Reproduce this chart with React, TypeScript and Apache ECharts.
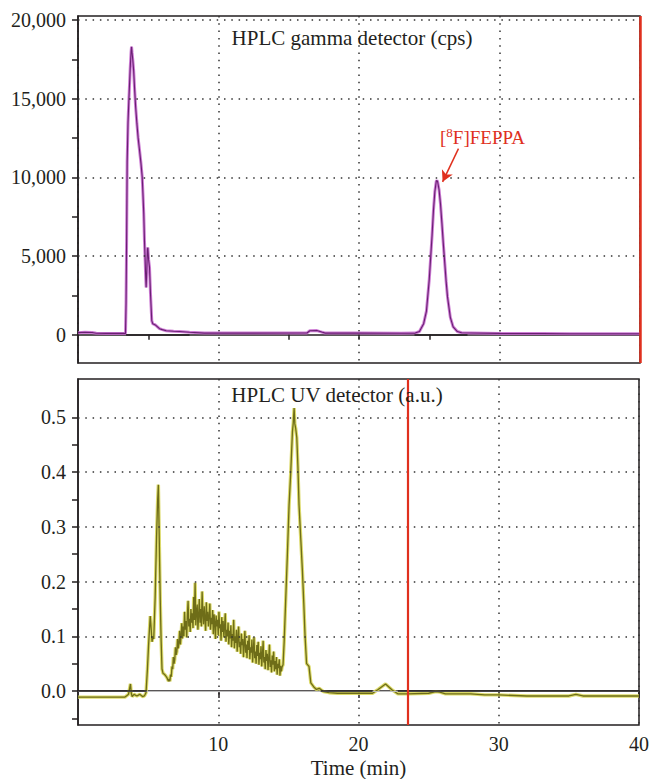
import React, { useEffect, useRef } from "react";
import * as echarts from "echarts";

// ---------- data ----------
const gammaData: [number, number][] = [
  [0, 130], [0.5, 150], [1.0, 140], [1.3, 90], [2.0, 80], [3.0, 80], [3.38, 80],
  [3.42, 2000], [3.46, 6000], [3.5, 11000], [3.56, 13500], [3.62, 14900], [3.72, 17000],
  [3.78, 18000], [3.81, 18300], [3.85, 17900], [3.9, 17450], [3.96, 16800], [4.02, 15750],
  [4.1, 14500], [4.19, 13440], [4.28, 12500], [4.38, 11720], [4.48, 10900], [4.57, 10020],
  [4.62, 9000], [4.68, 7700], [4.73, 6000], [4.78, 4710], [4.82, 3600], [4.85, 3000],
  [4.9, 4200], [4.94, 5400], [4.97, 5540], [5.02, 4800], [5.09, 4270], [5.16, 2600],
  [5.25, 890], [5.32, 700], [5.5, 620], [5.8, 380], [6.0, 320], [6.28, 250], [6.8, 220],
  [7.22, 200], [7.94, 150], [9.0, 100], [12.0, 100], [16.3, 110], [16.5, 250], [17.0, 260],
  [17.4, 150], [17.6, 100], [20.0, 100], [23.0, 90], [24.0, 100], [24.3, 200], [24.6, 700],
  [24.8, 1500], [25.0, 3500], [25.1, 4900], [25.2, 6300], [25.3, 7900], [25.4, 9100],
  [25.5, 9750], [25.55, 9800], [25.6, 9700], [25.7, 9200], [25.8, 8300], [25.9, 7100],
  [26.0, 5800], [26.1, 4600], [26.2, 3400], [26.3, 2400], [26.5, 1100], [26.7, 500],
  [27.0, 200], [27.3, 120], [28.0, 110], [30.0, 80], [33.0, 70], [35.0, 60], [40.0, 60],
];

const uvData: [number, number][] = [
  [0, -0.011], [3.35, -0.011], [3.5, -0.008], [3.6, -0.006], [3.74, 0.013], [3.8, -0.004],
  [3.86, -0.01], [4.0, -0.006], [4.2, -0.009], [4.4, -0.006], [4.6, -0.01], [4.73, -0.009],
  [4.85, -0.003], [4.95, 0.04], [5.03, 0.083], [5.09, 0.11], [5.15, 0.137], [5.2, 0.12],
  [5.28, 0.09], [5.34, 0.1], [5.4, 0.095], [5.5, 0.17], [5.6, 0.28], [5.68, 0.35],
  [5.73, 0.377], [5.78, 0.3], [5.83, 0.22], [5.87, 0.16], [5.93, 0.09], [5.99, 0.04],
  [6.07, 0.032], [6.15, 0.031], [6.25, 0.028], [6.35, 0.024], [6.45, 0.018],
  [6.5, 0.022], [6.55, 0.018], [6.6, 0.03], [6.65, 0.026], [6.7, 0.045], [6.75, 0.04],
  [6.8, 0.062], [6.85, 0.05], [6.9, 0.058], [6.95, 0.08], [7.0, 0.066], [7.05, 0.072],
  [7.1, 0.095], [7.15, 0.078], [7.2, 0.088], [7.25, 0.11], [7.3, 0.085], [7.35, 0.102],
  [7.4, 0.124], [7.45, 0.096], [7.5, 0.118], [7.55, 0.1], [7.6, 0.145], [7.65, 0.112],
  [7.7, 0.128], [7.75, 0.098], [7.8, 0.14], [7.85, 0.165], [7.9, 0.118], [7.95, 0.132],
  [8.0, 0.108], [8.05, 0.15], [8.1, 0.125], [8.15, 0.142], [8.2, 0.115], [8.25, 0.172],
  [8.3, 0.13], [8.35, 0.198], [8.4, 0.12], [8.45, 0.145], [8.5, 0.158], [8.55, 0.112],
  [8.6, 0.138], [8.65, 0.168], [8.7, 0.125], [8.75, 0.15], [8.8, 0.118], [8.85, 0.182],
  [8.9, 0.14], [8.95, 0.122], [9.0, 0.155], [9.05, 0.132], [9.1, 0.11], [9.15, 0.162],
  [9.2, 0.128], [9.25, 0.145], [9.3, 0.118], [9.35, 0.138], [9.4, 0.16], [9.45, 0.112],
  [9.5, 0.134], [9.55, 0.122], [9.6, 0.148], [9.65, 0.104], [9.7, 0.14], [9.75, 0.125],
  [9.8, 0.095], [9.85, 0.138], [9.9, 0.118], [9.95, 0.13], [10.0, 0.102], [10.05, 0.145],
  [10.1, 0.115], [10.15, 0.122], [10.2, 0.092], [10.25, 0.135], [10.3, 0.108], [10.35, 0.128],
  [10.4, 0.098], [10.45, 0.118], [10.5, 0.142], [10.55, 0.09], [10.6, 0.112], [10.65, 0.1],
  [10.7, 0.125], [10.75, 0.085], [10.8, 0.11], [10.85, 0.096], [10.9, 0.12], [10.95, 0.08],
  [11.0, 0.104], [11.05, 0.092], [11.1, 0.13], [11.15, 0.078], [11.2, 0.1], [11.25, 0.088],
  [11.3, 0.112], [11.35, 0.072], [11.4, 0.095], [11.45, 0.118], [11.5, 0.08], [11.55, 0.09],
  [11.6, 0.068], [11.65, 0.105], [11.7, 0.084], [11.75, 0.095], [11.8, 0.062], [11.85, 0.088],
  [11.9, 0.11], [11.95, 0.07], [12.0, 0.085], [12.05, 0.06], [12.1, 0.092], [12.15, 0.075],
  [12.2, 0.102], [12.25, 0.058], [12.3, 0.08], [12.35, 0.07], [12.4, 0.094], [12.45, 0.052],
  [12.5, 0.076], [12.55, 0.098], [12.6, 0.06], [12.65, 0.072], [12.7, 0.05], [12.75, 0.084],
  [12.8, 0.064], [12.85, 0.09], [12.9, 0.048], [12.95, 0.07], [13.0, 0.058], [13.05, 0.082],
  [13.1, 0.045], [13.15, 0.066], [13.2, 0.092], [13.25, 0.052], [13.3, 0.062], [13.35, 0.04],
  [13.4, 0.075], [13.45, 0.055], [13.5, 0.068], [13.55, 0.038], [13.6, 0.06], [13.65, 0.085],
  [13.7, 0.044], [13.75, 0.056], [13.8, 0.034], [13.85, 0.065], [13.9, 0.048], [13.95, 0.072],
  [14.0, 0.036], [14.05, 0.055], [14.1, 0.04], [14.15, 0.062], [14.2, 0.03], [14.25, 0.05],
  [14.3, 0.042], [14.35, 0.058], [14.4, 0.028], [14.45, 0.046], [14.5, 0.036], [14.55, 0.044],
  [14.62, 0.048], [14.7, 0.09], [14.8, 0.16], [14.93, 0.25], [15.05, 0.34],
  [15.17, 0.4], [15.29, 0.474], [15.35, 0.49], [15.41, 0.517], [15.46, 0.488], [15.52, 0.48],
  [15.6, 0.463], [15.68, 0.41], [15.76, 0.34], [15.88, 0.28], [16.0, 0.22], [16.1, 0.16],
  [16.19, 0.1], [16.3, 0.05], [16.47, 0.045], [16.6, 0.015], [16.8, 0.008], [17.0, 0.003],
  [17.2, 0.005], [17.5, -0.001], [17.9, -0.003], [18.5, -0.004], [20.0, -0.004], [21.0, -0.004],
  [21.4, 0.003], [21.93, 0.013], [22.4, 0.002], [22.8, -0.005], [23.5, -0.005], [25.0, -0.004],
  [25.5, -0.001], [25.8, -0.002], [26.2, -0.005], [28.0, -0.005], [29.0, -0.007], [30.0, -0.007],
  [32.0, -0.009], [35.0, -0.009], [35.5, -0.006], [36.0, -0.009], [40.0, -0.009],
];

const xTickValues = [10, 20, 30, 40];
const gammaYLabels = [0, 5000, 10000, 15000, 20000];
const gammaYTicks = [0, 2500, 5000, 7500, 10000, 12500, 15000, 17500, 20000];
const uvYLabels = [0, 0.1, 0.2, 0.3, 0.4, 0.5];
const uvYTicks = [-0.05, 0, 0.05, 0.1, 0.15, 0.2, 0.25, 0.3, 0.35, 0.4, 0.45, 0.5];

const gammaBaselines: [number, number][] = [[3.43, 7.94], [23.95, 27.72]];
const gammaMarkers = [5, 15, 20, 25];
const uvBlackBaselines: [number, number][] = [[0, 4.9], [17.3, 21.0], [22.8, 40]];
const gammaCursor = 40;
const uvCursor = 23.5;
const arrowFrom: [number, number] = [27.08, 11818];
const arrowTo: [number, number] = [25.95, 9713];

const FONT = "Liberation Serif";
const INK = "#231f20";
const RED = "#e0301e";
const DOT: [number, number] = [1.5, 5.8];

export default function App() {
  const ref = useRef<HTMLDivElement>(null);
  useEffect(() => {
    document.body.style.margin = "0";
    const chart = echarts.init(ref.current!, undefined, { renderer: "svg" });

    const yLabel = (text: string) => ({
      show: true, position: "start", distance: 12, formatter: text,
      fontFamily: FONT, fontSize: 20, color: INK,
    });
    const dotted = { color: "#333", width: 1.5, type: DOT };
    const hidden = { color: "rgba(0,0,0,0)", width: 0 };

    const option: any = {
      animation: false,
      backgroundColor: "#fff",
      textStyle: { fontFamily: FONT, color: INK },
      grid: [
        { left: 78, top: 16, width: 562, height: 347, show: true, borderColor: INK, borderWidth: 1.5 },
        { left: 78, top: 379, width: 562, height: 347, show: true, borderColor: INK, borderWidth: 1.5 },
      ],
      xAxis: [
        {
          type: "value", gridIndex: 0, min: 0, max: 40, interval: 10,
          axisLine: { show: true, lineStyle: { color: INK, width: 1.5 } },
          axisTick: { show: false }, axisLabel: { show: false },
          splitLine: { show: true, lineStyle: dotted },
        },
        {
          type: "value", gridIndex: 1, min: 0, max: 40, interval: 10,
          axisLine: { show: true, lineStyle: { color: INK, width: 1.5 } },
          axisTick: { show: true, length: 7, lineStyle: { color: INK, width: 1.5 }, customValues: xTickValues },
          axisLabel: {
            fontFamily: FONT, fontSize: 20, color: INK, margin: 9,
            formatter: (v: number) => (v === 0 ? "" : String(v)),
          },
          splitLine: { show: true, lineStyle: dotted },
          name: "Time (min)", nameLocation: "middle", nameGap: 32,
          nameTextStyle: { fontFamily: FONT, fontSize: 21, color: INK },
        },
      ],
      yAxis: [
        {
          type: "value", gridIndex: 0, min: -1800, max: 20250,
          axisLine: { show: true, lineStyle: { color: INK, width: 1.5 } },
          axisTick: { show: true, length: 6, lineStyle: { color: INK, width: 1.5 }, customValues: gammaYTicks },
          axisLabel: { show: false },
          splitLine: { show: false },
        },
        {
          type: "value", gridIndex: 1, min: -0.062, max: 0.57,
          axisLine: { show: true, lineStyle: { color: INK, width: 1.5 } },
          axisTick: { show: true, length: 6, lineStyle: { color: INK, width: 1.5 }, customValues: uvYTicks },
          axisLabel: { show: false },
          splitLine: { show: false },
        },
      ],
      series: [
        {
          type: "line", xAxisIndex: 0, yAxisIndex: 0, data: gammaData, showSymbol: false,
          lineStyle: { color: "#c466cc", width: 3, opacity: 0.85 }, z: 2, silent: true,
          markLine: {
            silent: true, symbol: ["none", "none"],
            data: gammaYLabels.map((v) => ({
              yAxis: v,
              lineStyle: v === 0 ? hidden : dotted,
              label: yLabel(v.toLocaleString("en-US")),
            })),
          },
        },
        {
          type: "line", xAxisIndex: 0, yAxisIndex: 0, data: gammaData, showSymbol: false,
          lineStyle: { color: "#6a1f73", width: 1.1 }, z: 3, silent: true,
          markLine: {
            silent: true, symbol: ["none", "none"], label: { show: false },
            data: [
              ...gammaBaselines.map(([a, b]) => [
                { coord: [a, 0], lineStyle: { color: INK, width: 1.5, type: "solid" } },
                { coord: [b, 0] },
              ]),
              ...gammaMarkers.map((t) => [
                { coord: [t, 0], lineStyle: { color: INK, width: 1.5, type: "solid" } },
                { coord: [t, -330] },
              ]),
              { xAxis: gammaCursor, lineStyle: { color: RED, width: 2.5, type: "solid" } },
            ],
          },
        },
        {
          type: "line", xAxisIndex: 0, yAxisIndex: 0, data: [], silent: true,
          markLine: {
            silent: true, symbol: ["none", "arrow"], symbolSize: [9, 11], label: { show: false },
            lineStyle: { color: RED, width: 1.5, type: "solid" },
            data: [[{ coord: arrowFrom }, { coord: arrowTo }]],
          },
        },
        {
          type: "line", xAxisIndex: 1, yAxisIndex: 1, data: uvData, showSymbol: false,
          lineStyle: { color: "#d8d65a", width: 3.4, opacity: 0.9 }, z: 2, silent: true,
          markLine: {
            silent: true, symbol: ["none", "none"],
            data: [
              ...uvYLabels.map((v) => ({
                yAxis: v,
                lineStyle: v === 0 ? { color: "#bdbdbd", width: 1.2, type: "solid" } : dotted,
                label: yLabel(v.toFixed(1)),
              })),
              ...uvBlackBaselines.map(([a, b]) => [
                { coord: [a, 0], lineStyle: { color: INK, width: 1.5, type: "solid" }, label: { show: false } },
                { coord: [b, 0] },
              ]),
            ],
          },
        },
        {
          type: "line", xAxisIndex: 1, yAxisIndex: 1, data: uvData, showSymbol: false,
          lineStyle: { color: "#6e6d18", width: 1.3 }, z: 3, silent: true,
          markLine: {
            silent: true, symbol: ["none", "none"], label: { show: false },
            data: [{ xAxis: uvCursor, lineStyle: { color: RED, width: 2.2, type: "solid" } }],
          },
        },
      ],
      graphic: [
        {
          type: "text", x: 352, y: 38, z: 10,
          style: {
            text: "HPLC gamma detector (cps)", fill: INK, fontFamily: FONT, fontSize: 21,
            textAlign: "center", textVerticalAlign: "middle",
          },
        },
        {
          type: "text", x: 337, y: 395, z: 10,
          style: {
            text: "HPLC UV detector (a.u.)", fill: INK, fontFamily: FONT, fontSize: 21,
            textAlign: "center", textVerticalAlign: "middle",
          },
        },
        {
          type: "text", x: 440, y: 137, z: 10,
          style: {
            text: "[{sup|8}F]FEPPA", fill: RED, fontFamily: FONT, fontSize: 19,
            textAlign: "left", textVerticalAlign: "middle",
            rich: {
              sup: { fontFamily: FONT, fontSize: 13, fill: RED, verticalAlign: "top", padding: [0, 0, 9, 0] },
            },
          },
        },
      ],
    };
    chart.setOption(option);
    return () => chart.dispose();
  }, []);
  return <div ref={ref} style={{ width: 652, height: 779 }} />;
}
